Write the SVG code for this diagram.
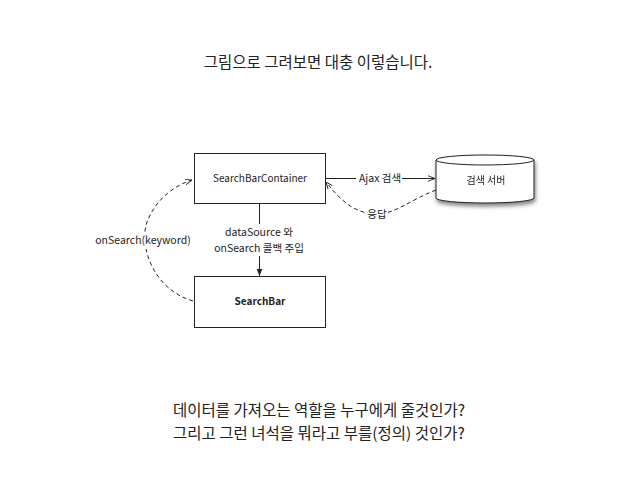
<svg xmlns="http://www.w3.org/2000/svg" width="638" height="479" viewBox="0 0 638 479">
<style>
text{font-family:"Noto Sans CJK KR","Noto Sans",sans-serif;fill:#222}
.t{text-anchor:middle}
.s{font-size:10px;text-anchor:middle}
.l{font-size:10.5px;text-anchor:middle}
.box{fill:#fff;stroke:#222;stroke-width:1}
.ln{fill:none;stroke:#222;stroke-width:1}
.d{fill:none;stroke:#222;stroke-width:1;stroke-dasharray:4,3}
</style>
<defs>
<marker id="af" viewBox="0 0 10 10" refX="10" refY="5" markerWidth="7" markerHeight="7" orient="auto"><path d="M0,1 L10,5 L0,9 z" fill="#222"/></marker>
<marker id="ao" viewBox="0 0 10 10" refX="10" refY="5" markerWidth="7" markerHeight="7" orient="auto"><path d="M0,1 L10,5 L0,9" fill="none" stroke="#222" stroke-width="1.3"/></marker>
<filter id="sh" x="-20%" y="-20%" width="140%" height="160%"><feGaussianBlur in="SourceAlpha" stdDeviation="2"/><feOffset dx="1" dy="3"/><feComponentTransfer><feFuncA type="linear" slope="0.5"/></feComponentTransfer><feMerge><feMergeNode/><feMergeNode in="SourceGraphic"/></feMerge></filter>
</defs>
<rect width="638" height="479" fill="#fff"/>
<text class="t" x="318" y="68" font-size="15.5">그림으로 그려보면 대충 이렇습니다.</text>
<g id="connectors">
<line class="ln" x1="259.5" y1="203" x2="259.5" y2="276" marker-end="url(#af)"/>
<rect x="222" y="224" width="76" height="32" fill="#fff"/>
<text class="l" x="259" y="236">dataSource 와</text>
<text class="l" x="259" y="252">onSearch 콜백 주입</text>
<line class="ln" x1="325" y1="178.5" x2="435" y2="178.5" marker-end="url(#ao)"/>
<rect x="356" y="171" width="46" height="15" fill="#fff"/>
<text class="l" x="380" y="182">Ajax 검색</text>
<path class="d" d="M436,190 C410,200 395,214 377,214 C355,214 340,200 326,182" marker-end="url(#ao)"/>
<rect x="367" y="207" width="21" height="15" fill="#fff"/>
<text class="l" x="377" y="218">응답</text>
<path class="d" d="M193,301 C155,290 140,250 146,225 C154,200 175,185 192,180" marker-end="url(#ao)"/>
<rect x="96" y="233" width="96" height="16" fill="#fff"/>
<text class="l" x="143" y="244">onSearch(keyword)</text>
</g>
<g id="searchBarContainer">
<rect class="box" x="194.5" y="153.5" width="131" height="50"/>
<text class="s" x="260" y="182">SearchBarContainer</text>
</g>
<g id="searchBar">
<rect class="box" x="194.5" y="276.5" width="131" height="51"/>
<text class="s" x="260" y="305" font-weight="bold">SearchBar</text>
</g>
<g id="searchServer" filter="url(#sh)">
<path class="box" d="M436,160 L436,198 A49,5 0 0 0 534,198 L534,160 A49,5 0 0 0 436,160 Z"/>
<path class="ln" d="M436,160 A49,5 0 0 0 534,160"/>
<text class="s" x="486" y="184">검색 서버</text>
</g>
<text class="t" x="319" y="416" font-size="15.5">데이터를 가져오는 역할을 누구에게 줄것인가?</text>
<text class="t" x="319" y="439" font-size="15.5">그리고 그런 녀석을 뭐라고 부를(정의) 것인가?</text>
</svg>
